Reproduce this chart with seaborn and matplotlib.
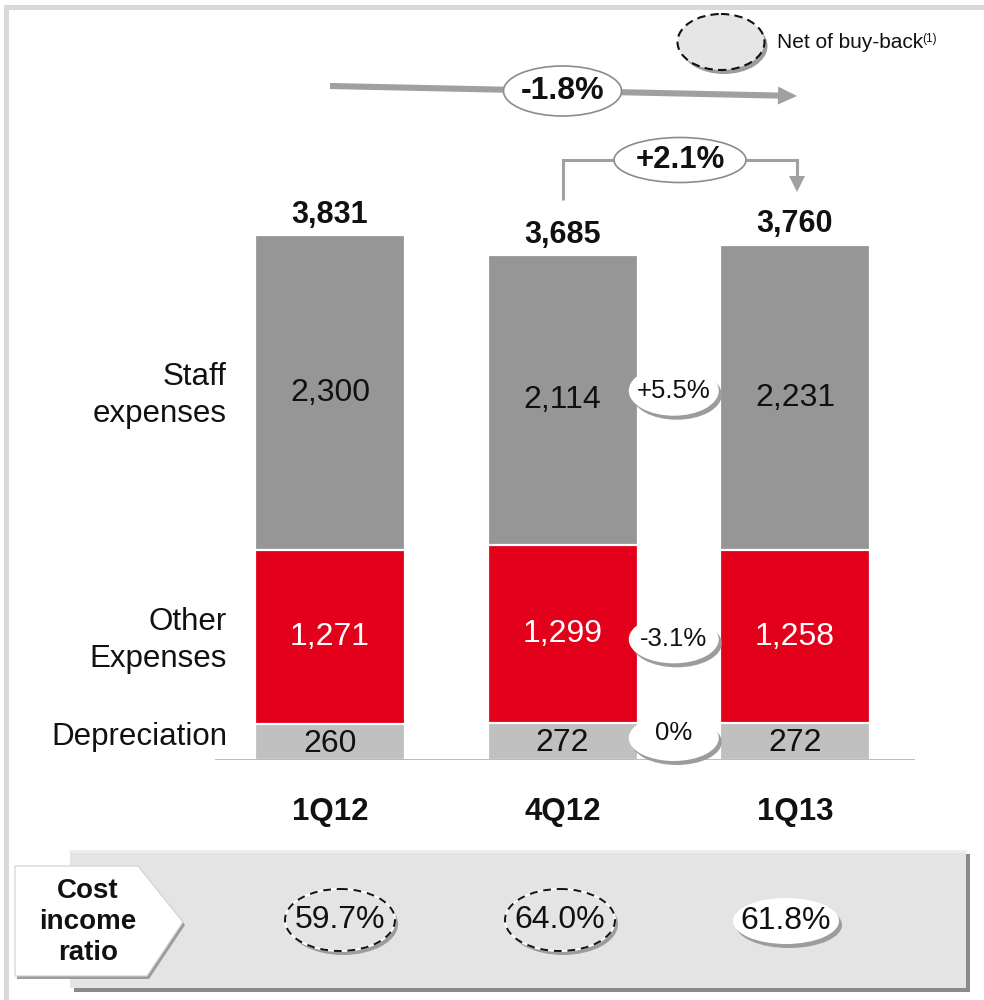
import matplotlib
matplotlib.use("Agg")
import matplotlib.pyplot as plt
from matplotlib.patches import Ellipse, Rectangle, Polygon
from matplotlib import font_manager
import pandas as pd
import seaborn as sns

# ---- data -------------------------------------------------------------
quarters = ["1Q12", "4Q12", "1Q13"]
depreciation = [260, 272, 272]
other_expenses = [1271, 1299, 1258]
staff_expenses = [2300, 2114, 2231]
totals = [3831, 3685, 3760]
segment_names = ["Staff\nexpenses", "Other\nExpenses", "Depreciation"]
qoq_segment_change = ["+5.5%", "-3.1%", "0%"]
yoy_change = "-1.8%"
qoq_total_change = "+2.1%"
cost_income_ratio = ["59.7%", "64.0%", "61.8%"]
net_of_buyback = [True, True, False]

# ---- style ------------------------------------------------------------
STAFF = "#969696"
OTHER = "#e2001a"
DEPR = "#c0c0c0"
ARROW = "#a0a0a0"

sns.set_theme(style="white")
plt.rcParams["font.family"] = ["Liberation Sans", "DejaVu Sans"]
names = {f.name for f in font_manager.fontManager.ttflist}
NARROW = "Liberation Sans Narrow" if "Liberation Sans Narrow" in names else "Liberation Sans"
RATIO_FS = 24 if NARROW == "Liberation Sans Narrow" else 23

W, H = 984, 1000
fig = plt.figure(figsize=(W / 100, H / 100), dpi=100)
fig.patch.set_facecolor("white")

# bar axes, laid out in pixel terms
BASE_Y, TOP_Y = 760, 180
X0, X1 = 215, 915
PX_PER_UNIT = 0.137
STEP = 232.5
FIRST_CX = 330
ax = fig.add_axes([X0 / W, 1 - BASE_Y / H, (X1 - X0) / W, (BASE_Y - TOP_Y) / H])

df = pd.DataFrame({
    "quarter": quarters,
    "dep": depreciation,
    "other": other_expenses,
    "staff": staff_expenses,
    "total": totals,
})
df["dep_other"] = df["dep"] + df["other"]

# stacked bars: cumulative heights drawn back to front
bar_w = 150 / STEP
for col, color in [("total", STAFF), ("dep_other", OTHER), ("dep", DEPR)]:
    sns.barplot(data=df, x="quarter", y=col, color=color, saturation=1,
                width=bar_w, edgecolor="white", linewidth=1.6, ax=ax)

ax.set_xlim((X0 - FIRST_CX) / STEP, (X1 - FIRST_CX) / STEP)
ax.set_ylim(0, (BASE_Y - TOP_Y) / PX_PER_UNIT)
ax.axis("off")
ax.axhline(0, color="#a6a6a6", lw=1.8, zorder=5)

for i, row in df.iterrows():
    ax.text(i, row["dep"] / 2 - 12, f"{row['dep']:,}", ha="center", va="center", fontsize=23, color="#111111")
    ax.text(i, row["dep"] + row["other"] / 2, f"{row['other']:,}", ha="center", va="center", fontsize=23, color="white")
    ax.text(i, row["dep_other"] + row["staff"] / 2, f"{row['staff']:,}", ha="center", va="center", fontsize=23, color="#111111")
    ax.text(i, row["total"] + 150, f"{row['total']:,}", ha="center", va="center", fontsize=22, fontweight="bold", color="#111111")

# ---- overlay in pixel coordinates ---------------------------------------
ov = fig.add_axes([0, 0, 1, 1])
ov.set_xlim(0, W)
ov.set_ylim(H, 0)
ov.axis("off")
ov.patch.set_visible(False)
ov.set_zorder(ax.get_zorder() + 1)


def to_px(x, y):
    dx, dy = ax.transData.transform((x, y))
    return dx * W / fig.bbox.width, H - dy * H / fig.bbox.height


def bubble(xc, yc, w, h, text, fs, bold=False, face="white", edge="none",
           ls="-", lw=1.2, shadow=True, family=None, under_edge=None, text_dy=0):
    if shadow:
        ov.add_patch(Ellipse((xc + 3, yc + 4), w, h, facecolor="#9c9c9c", edgecolor="none", zorder=3))
    ov.add_patch(Ellipse((xc, yc), w, h, facecolor=face, edgecolor=under_edge or "none", lw=lw, zorder=4))
    ov.add_patch(Ellipse((xc, yc), w, h, facecolor="none", edgecolor=edge, linestyle=ls, lw=lw, zorder=5))
    if text:
        kw = {"family": family} if family else {}
        ov.text(xc, yc + text_dy, text, ha="center", va="center", fontsize=fs,
                fontweight="bold" if bold else "normal", color="#111111", zorder=6, **kw)


def arrow_head(tip, direction, length, width):
    tx, ty = tip
    dx, dy = direction
    n = (dx ** 2 + dy ** 2) ** 0.5
    dx, dy = dx / n, dy / n
    bx, by = tx - dx * length, ty - dy * length
    px, py = -dy * width / 2, dx * width / 2
    ov.add_patch(Polygon([(tx, ty), (bx + px, by + py), (bx - px, by - py)],
                         closed=True, facecolor=ARROW, edgecolor="none", zorder=2))
    return bx, by


# frame
ov.plot([5.5, 5.5], [5, H], color="#d9d9d9", lw=3.6, solid_capstyle="butt", zorder=1)
ov.plot([3.5, W], [6.5, 6.5], color="#d9d9d9", lw=3.6, solid_capstyle="butt", zorder=1)

# segment names to the left of the first bar
_, staff_mid = to_px(0, df.loc[0, "dep_other"] + df.loc[0, "staff"] / 2)
_, other_mid = to_px(0, df.loc[0, "dep"] + df.loc[0, "other"] / 2)
_, dep_mid = to_px(0, df.loc[0, "dep"] / 2)
for label, y in zip(segment_names, [staff_mid + 3, other_mid + 3, dep_mid - 5]):
    ov.text(227, y, label, ha="right", va="center", fontsize=22.5, color="#111111",
            linespacing=1.3, zorder=6)

# quarter labels
for i, q in enumerate(quarters):
    cx, _ = to_px(i, 0)
    ov.text(cx, 812, q, ha="center", va="center", fontsize=22.5, fontweight="bold", color="#111111")

# segment change bubbles between the last two bars
mid_x = (to_px(1, 0)[0] + to_px(2, 0)[0]) / 2 - 5
bubble(mid_x, staff_mid - 2, 90, 50, qoq_segment_change[0], 18.5)
bubble(mid_x, other_mid + 2, 90, 48, qoq_segment_change[1], 18.5)
bubble(mid_x, 738, 90, 46, qoq_segment_change[2], 18.5, text_dy=-5)

# year-on-year arrow
c_first, _ = to_px(0, 0)
c_mid, _ = to_px(1, 0)
c_last, _ = to_px(2, 0)
tip = (c_last + 2, 96)
bx, by = arrow_head(tip, (tip[0] - c_first, tip[1] - 86), 19, 18)
ov.plot([c_first, bx + 1], [86, by], color=ARROW, lw=4.4, solid_capstyle="butt", zorder=2)
bubble((c_first + c_last) / 2, 91, 118, 50, yoy_change, 23, bold=True,
       edge="#8c8c8c", lw=1.2, shadow=False)

# quarter-on-quarter arrow
tip2 = (c_last + 2, 192)
bx2, by2 = arrow_head(tip2, (0, 1), 16, 16)
ov.plot([c_mid, c_mid, c_last + 2, c_last + 2], [200, 160, 160, by2 + 1], color=ARROW,
        lw=2.2, zorder=2, solid_joinstyle="miter", solid_capstyle="butt")
bubble(680, 160, 132, 45, qoq_total_change, 22.5, bold=True,
       edge="#8c8c8c", lw=1.2, shadow=False)

# legend for dashed ellipses
bubble(721, 42, 87, 56, "", 10, face="#e6e6e6", edge="#111111", ls=(0, (4, 2.5)), lw=1.5)
ov.text(777, 43, "Net of buy-back", ha="left", va="center", fontsize=15, color="#111111")
ov.text(922, 39, "(1)", ha="left", va="center", fontsize=8.5, color="#111111")

# cost / income panel
ov.add_patch(Rectangle((74, 854), 896, 138, facecolor="#8a8a8a", edgecolor="none", zorder=1))
ov.add_patch(Rectangle((70, 850), 896, 138, facecolor="#e4e4e4", edgecolor="none", zorder=1))
ov.plot([70, 966], [851, 851], color="#efefef", lw=2, zorder=1)
tag = [(15, 866), (138, 866), (183, 922), (147, 976), (15, 976)]
ov.add_patch(Polygon([(x + 2, y + 3) for x, y in tag], closed=True, facecolor="#9c9c9c",
                     edgecolor="none", zorder=2))
ov.add_patch(Polygon(tag, closed=True, facecolor="white", edgecolor="#d0d0d0", lw=0.8, zorder=3))
ov.text(88, 922, "Cost\nincome\nratio", ha="center", va="center", fontsize=20,
        fontweight="bold", color="#111111", linespacing=1.25, zorder=6)

ratio_x = [340, 560, 786]
for x, txt, dashed in zip(ratio_x, cost_income_ratio, net_of_buyback):
    if dashed:
        bubble(x, 920, 110, 62, txt, RATIO_FS, face="#e4e4e4", edge="#111111",
               ls=(0, (4, 3)), lw=1.4, under_edge="white", family=NARROW)
    else:
        bubble(x, 921, 106, 46, txt, RATIO_FS, face="white", family=NARROW)

fig.savefig("out.png", dpi=100, facecolor="white")
